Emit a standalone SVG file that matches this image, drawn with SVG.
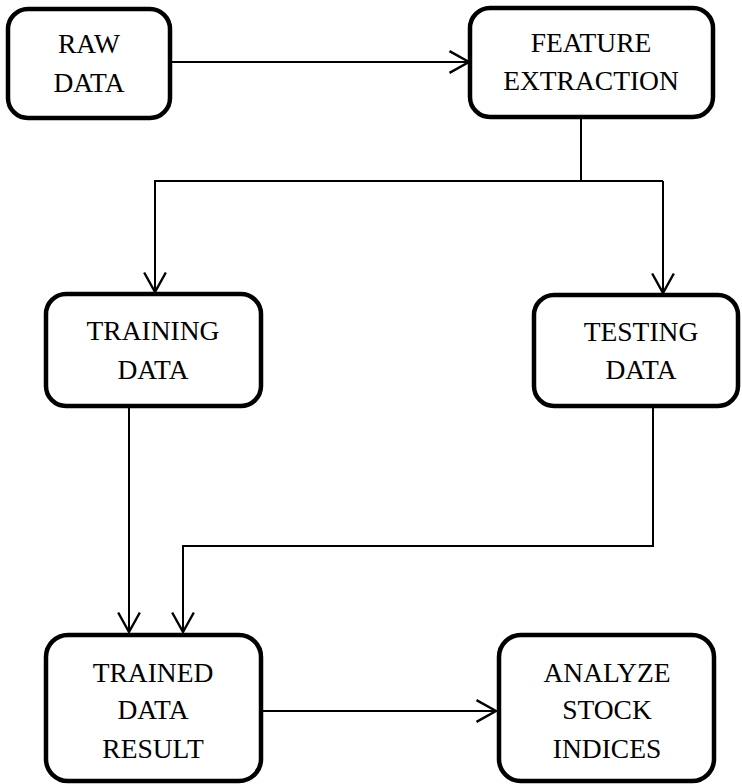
<svg xmlns="http://www.w3.org/2000/svg" width="742" height="784" viewBox="0 0 742 784">
<style>
.box{fill:#fff;stroke:#000;stroke-width:4.5}
.lbl{font-family:"Liberation Serif","Times New Roman",serif;font-size:27.5px;fill:#000;text-anchor:middle}
.con{fill:none;stroke:#000;stroke-width:2}
</style>
<defs>
<marker id="arr" markerUnits="userSpaceOnUse" markerWidth="24" markerHeight="26" viewBox="-20 -12 22 24" refX="0" refY="0" orient="auto">
<path d="M-18,-10 L0,0 L-18,10" fill="none" stroke="#000" stroke-width="2.2"/>
</marker>
</defs>
<rect width="742" height="784" fill="#fff"/>
<g id="connectors">
<path class="con" d="M170,62 H469" marker-end="url(#arr)"/>
<path class="con" d="M581,117 V181"/>
<path class="con" d="M663,181 H155 V292" marker-end="url(#arr)"/>
<path class="con" d="M663,181 V293" marker-end="url(#arr)"/>
<path class="con" d="M129,406 V632" marker-end="url(#arr)"/>
<path class="con" d="M653,406 V546 H183 V632" marker-end="url(#arr)"/>
<path class="con" d="M261,711 H496" marker-end="url(#arr)"/>
</g>
<g id="raw-data">
<rect class="box" x="8" y="9" width="162" height="109" rx="20"/>
<text class="lbl" x="89" y="53">RAW</text>
<text class="lbl" x="89" y="92">DATA</text>
</g>
<g id="feature-extraction">
<rect class="box" x="470" y="8" width="243" height="109" rx="20"/>
<text class="lbl" x="591" y="52">FEATURE</text>
<text class="lbl" x="591" y="90">EXTRACTION</text>
</g>
<g id="training-data">
<rect class="box" x="46" y="294" width="215" height="112" rx="20"/>
<text class="lbl" x="153" y="340">TRAINING</text>
<text class="lbl" x="153" y="379">DATA</text>
</g>
<g id="testing-data">
<rect class="box" x="534" y="295" width="204" height="111" rx="20"/>
<text class="lbl" x="641" y="341">TESTING</text>
<text class="lbl" x="641" y="379">DATA</text>
</g>
<g id="trained-data-result">
<rect class="box" x="46" y="635" width="215" height="146" rx="22"/>
<text class="lbl" x="153" y="682">TRAINED</text>
<text class="lbl" x="153" y="719">DATA</text>
<text class="lbl" x="153" y="758">RESULT</text>
</g>
<g id="analyze-stock-indices">
<rect class="box" x="499" y="635" width="215" height="146" rx="22"/>
<text class="lbl" x="607" y="682">ANALYZE</text>
<text class="lbl" x="607" y="719">STOCK</text>
<text class="lbl" x="607" y="758">INDICES</text>
</g>
</svg>
